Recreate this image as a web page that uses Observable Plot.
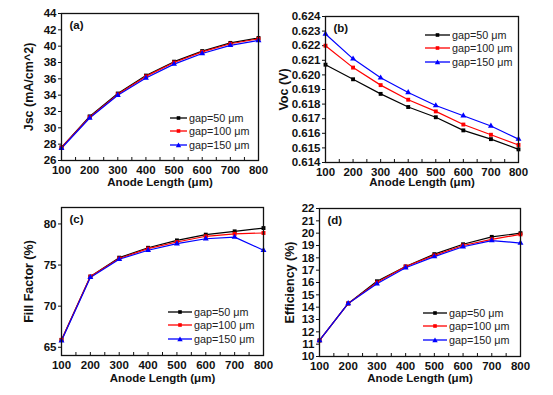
<!DOCTYPE html>
<html>
<head>
<meta charset="utf-8">
<script src="https://cdn.jsdelivr.net/npm/d3@7"></script>
<script src="https://cdn.jsdelivr.net/npm/@observablehq/plot@0.6"></script>
<style>
  html, body { margin: 0; padding: 0; background: #fff; }
  #wrap { position: relative; width: 553px; height: 395px; overflow: hidden; font-family: "Liberation Sans", Arial, sans-serif; }
  .panel { position: absolute; overflow: visible; }
  .legend { position: absolute; font-family: "Liberation Sans", Arial, sans-serif; font-size: 10.8px; color: #222; }
  .legend .item { display: flex; align-items: center; height: 13.5px; white-space: nowrap; }
  .legend svg { margin-right: 2px; }
</style>
</head>
<body>
<div id="wrap"></div>
<script>
// ---- data ----
const anodeLength = [100, 200, 300, 400, 500, 600, 700, 800];
const gapLabels = ["gap=50 μm", "gap=100 μm", "gap=150 μm"];
const gapColors = ["#000000", "#ff0000", "#0000ff"];
const gapSymbols = ["square", "square", "triangle"];

const jsc50  = [27.6, 31.4, 34.2, 36.4, 38.1, 39.4, 40.4, 41.0];
const jsc100 = [27.6, 31.3, 34.1, 36.3, 38.0, 39.3, 40.3, 40.9];
const jsc150 = [27.5, 31.2, 34.0, 36.1, 37.8, 39.1, 40.1, 40.7];

const voc50  = [0.6207, 0.6197, 0.6187, 0.6178, 0.6171, 0.6162, 0.6156, 0.6149];
const voc100 = [0.6220, 0.6205, 0.6193, 0.6183, 0.6175, 0.6166, 0.6159, 0.6152];
const voc150 = [0.6228, 0.6211, 0.6198, 0.6188, 0.6179, 0.6172, 0.6165, 0.6156];

const ff50  = [65.9, 73.6, 75.9, 77.1, 78.0, 78.7, 79.1, 79.5];
const ff100 = [65.9, 73.6, 75.8, 77.0, 77.8, 78.5, 78.8, 78.9];
const ff150 = [65.8, 73.5, 75.7, 76.8, 77.6, 78.2, 78.4, 76.8];

const eff50  = [11.3, 14.3, 16.1, 17.3, 18.3, 19.1, 19.7, 20.0];
const eff100 = [11.3, 14.3, 16.0, 17.3, 18.2, 19.0, 19.5, 19.9];
const eff150 = [11.3, 14.3, 15.9, 17.2, 18.1, 18.9, 19.4, 19.2];

const jscTicks = [26, 28, 30, 32, 34, 36, 38, 40, 42, 44];
const vocTicks = [0.614, 0.615, 0.616, 0.617, 0.618, 0.619, 0.620, 0.621, 0.622, 0.623, 0.624];
const ffTicks = [65, 70, 75, 80];
const effTicks = [10, 11, 12, 13, 14, 15, 16, 17, 18, 19, 20, 21, 22];
const xTicks = anodeLength;
const xMinorTicks = [100, 150, 200, 250, 300, 350, 400, 450, 500, 550, 600, 650, 700, 750, 800];
const xTitle = "Anode Length (μm)";

// ---- helpers ----
function toRows(series) {
  const rows = [];
  series.forEach((vals, gi) => {
    vals.forEach((v, i) => rows.push({x: anodeLength[i], y: v, g: gapLabels[gi]}));
  });
  return rows;
}

const wrap = document.getElementById("wrap");

function panel(opts) {
  const rows = toRows(opts.series);
  const p = Plot.plot({
    width: opts.width, height: opts.height,
    marginLeft: opts.ml, marginRight: opts.mr, marginTop: opts.mt, marginBottom: opts.mb,
    style: {fontFamily: "'Liberation Sans', Arial, sans-serif", fontSize: "11px", fontWeight: "bold", color: "#111", background: "transparent", overflow: "visible"},
    x: {domain: [100, 800]},
    y: {domain: opts.ydomain},
    color: {domain: gapLabels, range: gapColors},
    symbol: {domain: gapLabels, range: gapSymbols},
    marks: [
      Plot.axisX({ticks: xMinorTicks, tickSize: -3, tickFormat: () => "", label: null}),
      Plot.axisX({ticks: xTicks, tickSize: 0, tickPadding: 5, tickFormat: d => String(d), fontSize: 11.5, label: null}),
      Plot.axisY({ticks: opts.yticks, tickSize: 3, tickPadding: 2, tickFormat: opts.yfmt, fontSize: 11.5, label: null}),
      Plot.line(rows, {x: "x", y: "y", z: "g", stroke: "g", strokeWidth: 1.2}),
      Plot.dot(rows, {x: "x", y: "y", fill: "g", symbol: "g", r: 2.2, stroke: null}),
      Plot.frame({stroke: "#111", strokeWidth: 1.3}),
      Plot.text([opts.tag], {frameAnchor: "top-left", dx: 8, dy: 7, fontSize: 11.5, fontWeight: "bold", text: d => d}),
      Plot.text([xTitle], {frameAnchor: "bottom", textAnchor: "middle", lineAnchor: "middle", dy: opts.xdy,
                           fontSize: 11.5, fontWeight: "bold", text: d => d, fill: "#111"}),
      Plot.text([opts.ylabel], {frameAnchor: "left", textAnchor: "middle", lineAnchor: "middle", rotate: -90, dx: opts.ydx,
                                fontSize: 12.5, fontWeight: "bold", text: d => d, fill: "#111"})
    ]
  });
  p.classList.add("panel");
  p.style.left = opts.left + "px";
  p.style.top = opts.top + "px";
  wrap.appendChild(p);

  // legend
  const lg = document.createElement("div");
  lg.className = "legend";
  lg.style.left = opts.lgx + "px";
  lg.style.top = opts.lgy + "px";
  const L = opts.lgLen;
  const c = L / 2;
  gapLabels.forEach((lab, i) => {
    const it = document.createElement("div");
    it.className = "item";
    const sym = gapSymbols[i] === "triangle"
      ? `<path d="M${c} 3.6 L${c + 2.7} 8.2 L${c - 2.7} 8.2 Z" fill="${gapColors[i]}"/>`
      : `<rect x="${c - 1.8}" y="4.2" width="3.6" height="3.6" fill="${gapColors[i]}"/>`;
    it.innerHTML = `<svg width="${L}" height="12"><line x1="0" x2="${L}" y1="6" y2="6" stroke="${gapColors[i]}" stroke-width="1.3"/>${sym}</svg><span>${lab}</span>`;
    lg.appendChild(it);
  });
  wrap.appendChild(lg);
}

panel({left: 0, top: 0, width: 275, height: 195, ml: 61, mr: 17, mt: 13, mb: 35,
  series: [jsc50, jsc100, jsc150], ydomain: [26, 44], yticks: jscTicks, yfmt: d => String(d),
  ylabel: "Jsc (mA/cm^2)", ydx: -33, xdy: 22, tag: "(a)", lgx: 170, lgy: 111, lgLen: 17});

panel({left: 270, top: 0, width: 283, height: 195, ml: 55, mr: 35, mt: 16, mb: 33,
  series: [voc50, voc100, voc150], ydomain: [0.614, 0.624], yticks: vocTicks, yfmt: d3.format(".3f"),
  ylabel: "Voc (V)", ydx: -42, xdy: 20, tag: "(b)", lgx: 425, lgy: 28, lgLen: 25});

panel({left: 0, top: 195, width: 280, height: 200, ml: 61, mr: 17, mt: 12, mb: 40,
  series: [ff50, ff100, ff150], ydomain: [64, 82], yticks: ffTicks, yfmt: d => String(d),
  ylabel: "Fill Factor (%)", ydx: -33, xdy: 23, tag: "(c)", lgx: 168, lgy: 305, lgLen: 24});

panel({left: 270, top: 195, width: 283, height: 200, ml: 49, mr: 33, mt: 13, mb: 39,
  series: [eff50, eff100, eff150], ydomain: [10, 22], yticks: effTicks, yfmt: d => String(d),
  ylabel: "Efficiency (%)", ydx: -30, xdy: 22, tag: "(d)", lgx: 423, lgy: 306, lgLen: 24});
</script>
</body>
</html>
